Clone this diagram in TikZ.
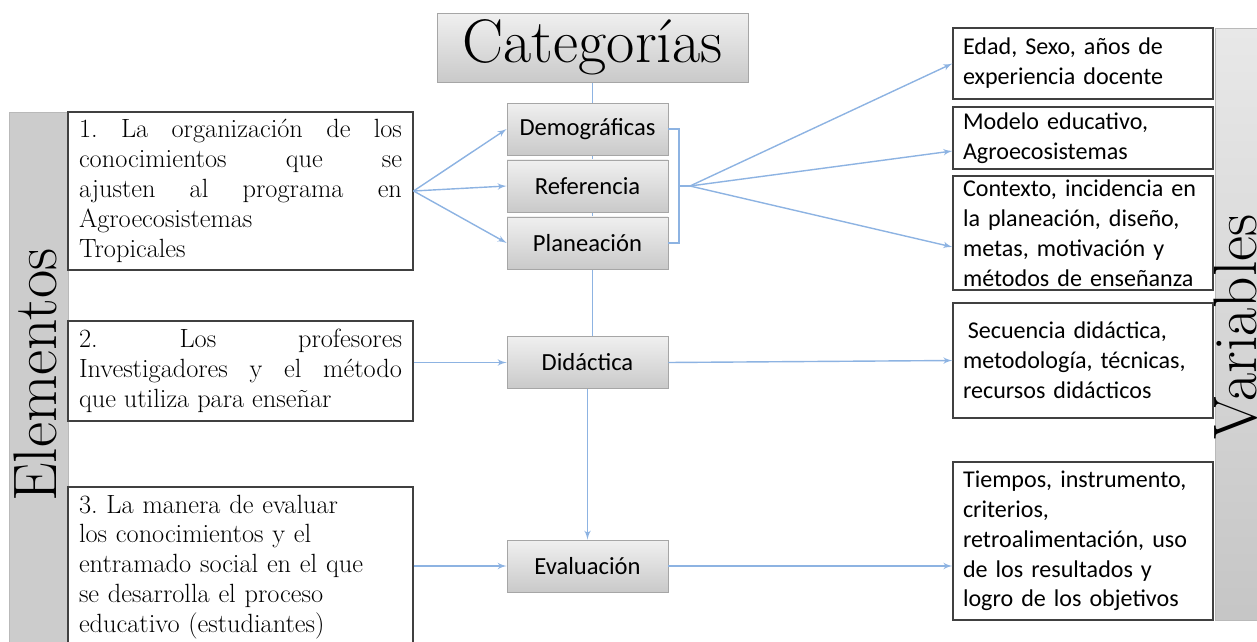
\documentclass[tikz,border=0pt]{standalone}
\usepackage{fontspec}
\newfontfamily\calibri{Carlito}
\usepackage{tikz}
\usetikzlibrary{arrows,positioning,backgrounds}
\definecolor{linea}{RGB}{141,179,226}
\definecolor{borde}{RGB}{64,64,64}

\begin{document}
\begin{tikzpicture}[
    x=0.02cm, y=-0.02cm,
    node distance=1.14cm,
    >=latex',
    categ/.style={
		rectangle,
		draw=gray!70,
		top color=gray!12,
		bottom color=gray!42,
		minimum width=3.22cm,
		minimum height=1.04cm,
		font=\calibri\fontsize{14}{17}\selectfont
	},
    elem/.style={
		rectangle,
		draw=borde,
		line width=0.7pt,
		fill=white,
		text width=6.46cm,
		inner xsep=0.22cm,
		inner ysep=1pt,
		align=justify,
		font=\fontsize{15}{17}\selectfont\frenchspacing
	},
    variab/.style={
		rectangle,
		draw=borde,
		line width=0.7pt,
		fill=white,
		text width=4.8cm,
		inner xsep=0.2cm,
		inner ysep=1pt,
		align=left,
		font=\calibri\fontsize{13.7}{17}\selectfont
	},
    barra/.style={
		rectangle,
		draw=gray!55,
		inner sep=0pt
	},
    titulo/.style={
		inner sep=0pt,
		font=\fontsize{35}{40}\selectfont
	},
    flecha/.style={
		draw=linea,
		line width=0.8pt
	}
  ]
  \useasboundingbox (0,0) rectangle (1257,642);

    % side bars
  \node [barra, fill=gray!40, minimum width=1.18cm, minimum height=10.96cm] (elembar) at (38.5,386) {};
  \node [titulo, rotate=90, anchor=base] (elemtxt) at (56,375) {Elementos};
  \node [barra, top color=gray!18, bottom color=gray!45, minimum width=1.08cm, minimum height=11.84cm] (varbar) at (1242,324) {};
  \node [titulo, rotate=90, anchor=base] (vartxt) at (1256,327) {Variables};

    % categories
  \node [categ, minimum width=6.22cm, minimum height=1.38cm, font=\fontsize{35}{40}\selectfont] (cat) at (592.5,47.5) {Categorías};
  \node [categ] (demog) at (587.5,129) {Demográficas};
  \node [categ, below of=demog] (refer) {Referencia};
  \node [categ, below of=refer] (plan) {Planeación};
  \node [categ] (didac) at (587.5,362.5) {Didáctica};
  \node [categ] (evalu) at (587.5,566) {Evaluación};

    % elements
  \node [elem, minimum height=3.16cm] (e1) at (240.5,191)
 {1. La organización de los\linebreak conocimientos que se\linebreak ajusten al programa en\linebreak Agroecosistemas\\ Tropicales};
  \node [elem, minimum height=2cm] (e2) at (240.5,371)
 {2. Los profesores\linebreak Investigadores y el método\linebreak que utiliza para enseñar};
  \node [elem, align=left, minimum height=3.2cm] (e3) at (240.5,567)
 {3. La manera de evaluar\\ los conocimientos y el\\ entramado social en el que\\ se desarrolla el proceso\\ educativo (estudiantes)};

    % variables
  \node [variab, minimum height=1.42cm] (v1) at (1083,63.5) {Edad, Sexo, años de\\ experiencia docente};
  \node [variab, minimum height=1.24cm] (v2) at (1083,138) {Modelo educativo,\\ Agroecosistemas};
  \node [variab, minimum height=2.28cm] (v3) at (1083,233) {Contexto, incidencia en\\ la planeación, diseño,\\ metas, motivación y\\ métodos de enseñanza};
  \node [variab, minimum height=2.3cm] (v4) at (1083,360.5) {\hspace{0.2em}Secuencia didáctica,\\ metodología, técnicas,\\ recursos didácticos};
  \node [variab, minimum height=3.16cm] (v5) at (1083,541) {Tiempos, instrumento,\\ criterios,\\ retroalimentación, uso\\ de los resultados y\\ logro de los objetivos};

  \coordinate (brk) at (679,186);
  \coordinate (hub) at (690,186);

  \begin{scope}[on background layer]
  \draw [flecha] (cat.south) -- (cat.south |- didac.north);
  \end{scope}

  \draw [flecha,->] (e1.east) -- (demog.west);
  \draw [flecha,->] (e1.east) -- (refer.west);
  \draw [flecha,->] (e1.east) -- (plan.west);
  \draw [flecha,->] (e2.east |- didac.west) -- (didac.west);
  \draw [flecha,->] (e3.east |- evalu.west) -- (evalu.west);
  \draw [flecha,->] (didac.south) -- (evalu.north);

  \draw [flecha] (demog.east) -| (brk) |- (plan.east);
  \draw [flecha] (brk) -- (hub);
  \draw [flecha,->] (hub) -- (v1.west);
  \draw [flecha,->] (hub) -- ([yshift=-0.26cm]v2.west);
  \draw [flecha,->] (hub) -- ([yshift=-0.28cm]v3.west);
  \draw [flecha,->] (didac.east) -- (v4.west);
  \draw [flecha,->] (evalu.east) -- (evalu.east -| v5.west);

\end{tikzpicture}
\end{document}
